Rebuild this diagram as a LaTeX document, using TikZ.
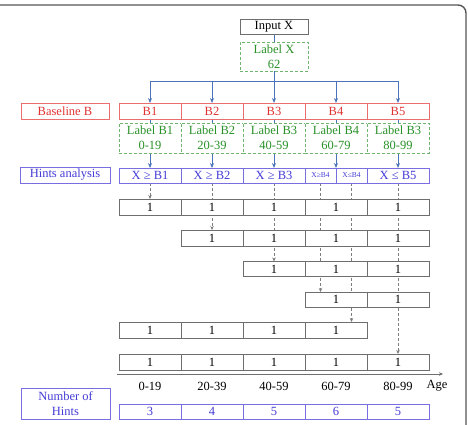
\documentclass[tikz,border=0pt]{standalone}
\usepackage{fontspec}
\setmainfont{Liberation Serif}
\usetikzlibrary{arrows.meta,backgrounds}
\definecolor{cred}{RGB}{225,50,50}
\definecolor{credb}{RGB}{235,110,110}
\definecolor{cgreen}{RGB}{40,145,40}
\definecolor{cgreenb}{RGB}{110,180,110}
\definecolor{cblue}{RGB}{70,60,215}
\definecolor{cblueb}{RGB}{120,110,225}
\definecolor{carrow}{RGB}{75,115,185}
\definecolor{cgray}{RGB}{110,110,110}
\definecolor{cdash}{RGB}{125,125,125}
\definecolor{cframe}{RGB}{85,85,85}
\begin{document}
\begin{tikzpicture}[x=1pt,y=-1pt,
  txt/.style={font=\fontsize{12.5}{15}\selectfont},
  box/.style={txt, draw, line width=0.7pt, fill=white, inner sep=0pt, outer sep=0pt, minimum height=16pt, align=center},
  graycell/.style={box, draw=cgray, text=black, minimum width=62pt},
  redcell/.style={box, draw=credb, text=cred, minimum width=62pt},
  greencell/.style={box, draw=cgreenb, densely dashed, text=cgreen, minimum width=62pt, minimum height=30pt},
  bluecell/.style={box, draw=cblueb, text=cblue, minimum width=62pt, minimum height=15pt},
  smallblue/.style={bluecell, minimum width=31pt, font=\fontsize{7.5}{9}\selectfont},
  numcell/.style={bluecell, font=\fontsize{12.5}{15}\selectfont},
  bline/.style={draw=carrow, line width=1pt},
  barr/.style={bline, -{Stealth[length=5pt,width=4pt]}},
  darr/.style={draw=cdash, densely dashed, line width=0.7pt, -{Stealth[length=4pt,width=3.5pt]}},
  agelab/.style={txt, text=black}
]
\useasboundingbox (0,0) rectangle (468,424);
\draw[cframe, line width=1.4pt, rounded corners=8pt] (-20,5) rectangle (466,445);

% top
\node[box, draw=cgray, minimum width=68pt, minimum height=15pt] (in) at (274,26.5) {Input X};
\node[greencell, minimum width=68pt, minimum height=29pt] (lx) at (274,56.5) {Label X\\62};
\coordinate (bar) at (274,81);

% left labels
\node[box, draw=credb, text=cred, minimum width=88pt] (baseB) at (65,111) {Baseline B};
\node[box, draw=cblueb, text=cblue, minimum width=90pt, minimum height=16pt] (hintsA) at (65,175) {Hints analysis};
\node[box, draw=cblueb, text=cblue, minimum width=89pt, minimum height=31pt] (numH) at (65.5,403.5) {Number of\\Hints};

% B row
\node[redcell] (b1) at (150,111) {B1};
\node[redcell] (b2) at (212,111) {B2};
\node[redcell] (b3) at (274,111) {B3};
\node[redcell] (b4) at (336,111) {B4};
\node[redcell] (b5) at (398,111) {B5};

% Label B row
\node[greencell] (lb1) at (150,138) {Label B1\\0-19};
\node[greencell] (lb2) at (212,138) {Label B2\\20-39};
\node[greencell] (lb3) at (274,138) {Label B3\\40-59};
\node[greencell] (lb4) at (336,138) {Label B4\\60-79};
\node[greencell] (lb5) at (398,138) {Label B3\\80-99};

% Hints row
\node[bluecell] (h1) at (150,175.5) {X ≥ B1};
\node[bluecell] (h2) at (212,175.5) {X ≥ B2};
\node[bluecell] (h3) at (274,175.5) {X ≥ B3};
\node[smallblue] (h4a) at (320.5,175.5) {X≥B4};
\node[smallblue] (h4b) at (351.5,175.5) {X≤B4};
\node[bluecell] (h5) at (398,175.5) {X ≤ B5};

% rows of ones
\node[graycell] (r1c1) at (150,207) {1};
\node[graycell] (r1c2) at (212,207) {1};
\node[graycell] (r1c3) at (274,207) {1};
\node[graycell] (r1c4) at (336,207) {1};
\node[graycell] (r1c5) at (398,207) {1};

\node[graycell] (r2c2) at (212,238) {1};
\node[graycell] (r2c3) at (274,238) {1};
\node[graycell] (r2c4) at (336,238) {1};
\node[graycell] (r2c5) at (398,238) {1};

\node[graycell, minimum height=15pt] (r3c3) at (274,269) {1};
\node[graycell, minimum height=15pt] (r3c4) at (336,269) {1};
\node[graycell, minimum height=15pt] (r3c5) at (398,269) {1};

\node[graycell, minimum height=15pt] (r4c4) at (336,299.5) {1};
\node[graycell, minimum height=15pt] (r4c5) at (398,299.5) {1};

\node[graycell] (r5c1) at (150,330) {1};
\node[graycell] (r5c2) at (212,330) {1};
\node[graycell] (r5c3) at (274,330) {1};
\node[graycell] (r5c4) at (336,330) {1};

\node[graycell] (r6c1) at (150,362) {1};
\node[graycell] (r6c2) at (212,362) {1};
\node[graycell] (r6c3) at (274,362) {1};
\node[graycell] (r6c4) at (336,362) {1};
\node[graycell] (r6c5) at (398,362) {1};

% axis
\coordinate (ax0) at (117,374);
\coordinate (ax1) at (443,374);
\draw[cgray, line width=0.7pt, -{Stealth[length=4pt,width=3.5pt]}] (ax0) -- (ax1);
\node[agelab] (a1) at (150,386) {0-19};
\node[agelab] (a2) at (212,386) {20-39};
\node[agelab] (a3) at (274,386) {40-59};
\node[agelab] (a4) at (336,386) {60-79};
\node[agelab] (a5) at (398,386) {80-99};
\node[agelab] (age) at (437,386) {Age};

% numbers
\node[numcell] (n1) at (150,411.5) {3};
\node[numcell] (n2) at (212,411.5) {4};
\node[numcell] (n3) at (274,411.5) {5};
\node[numcell] (n4) at (336,411.5) {6};
\node[numcell] (n5) at (398,411.5) {5};

% connectors
\begin{scope}[on background layer]
\draw[bline] (in.south) -- (lx.north);
\draw[bline] (lx.south) -- (bar);
\draw[bline] (bar -| b1.north) -- (bar -| b5.north);
\foreach \i in {1,...,5} {
  \draw[barr] (bar -| b\i.north) -- (b\i.north);
  \draw[bline] (b\i.south) -- (lb\i.north);
}
\draw[barr] (lb1.south) -- (h1.north);
\draw[barr] (lb2.south) -- (h2.north);
\draw[barr] (lb3.south) -- (h3.north);
\draw[barr] (lb4.south) -- (lb4.south |- h4a.north);
\draw[barr] (lb5.south) -- (h5.north);

\draw[darr] (h1.south) -- (r1c1.north);
\draw[darr] (h2.south) -- (r2c2.north);
\draw[darr] (h3.south) -- (r3c3.north);
\draw[darr] (h4a.south) -- (h4a.south |- r4c4.north);
\draw[darr] (h4b.south) -- (h4b.south |- r5c4.north);
\draw[darr] (h5.south) -- (r6c5.north);
\end{scope}
\end{tikzpicture}
\end{document}
